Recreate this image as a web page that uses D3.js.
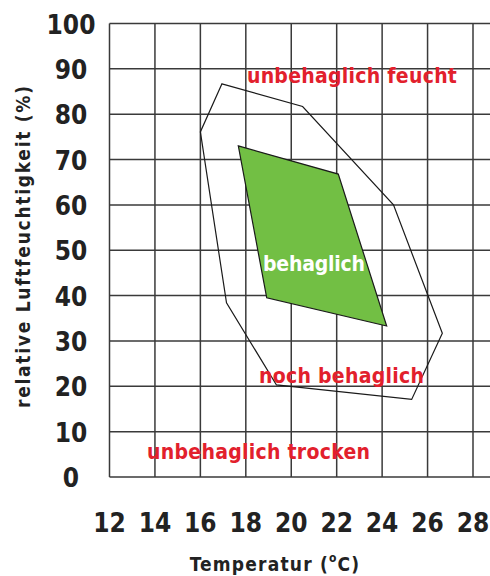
<!DOCTYPE html>
<html>
<head>
<meta charset="utf-8">
<script src="https://cdn.jsdelivr.net/npm/d3@7"></script>
<style>
  body { margin: 0; background: #fff; }
  svg { display: block; font-family: "DejaVu Sans Condensed", "DejaVu Sans", sans-serif; font-stretch: condensed; }
</style>
</head>
<body>
<div id="chart"></div>
<script>
// tick values
let xTicks = [12, 14, 16, 18, 20, 22, 24, 26, 28];
let yTicks = [0, 10, 20, 30, 40, 50, 60, 70, 80, 90, 100];

// outer zone "noch behaglich" (temperature, humidity)
let outerTemp = [16.95, 20.5, 24.5, 26.65, 25.3, 19.35, 17.15, 16.0];
let outerHum  = [86.7, 81.7, 60.0, 31.7, 17.1, 20.3, 38.4, 76.1];

// inner zone "behaglich"
let innerTemp = [17.67, 22.07, 24.2, 18.92];
let innerHum  = [73.0, 66.8, 33.3, 39.5];

// region labels
let labels = [
    { text: "unbehaglich feucht", t: 22.67, h: 86.9, color: "#e2202c", len: 210 },
    { text: "behaglich", t: 21.0, h: 45.4, color: "#ffffff", len: 102 },
    { text: "noch behaglich", t: 22.21, h: 20.7, color: "#e2202c", len: 165 },
    { text: "unbehaglich trocken", t: 18.56, h: 3.97, color: "#e2202c", len: 223 }
];

let width = 490, height = 576;

let svg = d3.select("#chart")
    .append("svg")
    .attr("width", width)
    .attr("height", height);

let x = d3.scaleLinear().domain([12, 28]).range([109.5, 473]);
let y = d3.scaleLinear().domain([0, 100]).range([477, 23.5]);

// grid
svg.append("g")
    .selectAll("line")
    .data(yTicks)
    .enter().append("line")
    .attr("x1", x(12))
    .attr("x2", width)
    .attr("y1", d => y(d))
    .attr("y2", d => y(d))
    .attr("stroke", "#3a3a3a")
    .attr("stroke-width", 1.5);

svg.append("g")
    .selectAll("line")
    .data(xTicks)
    .enter().append("line")
    .attr("x1", d => x(d))
    .attr("x2", d => x(d))
    .attr("y1", y(100))
    .attr("y2", y(0))
    .attr("stroke", "#3a3a3a")
    .attr("stroke-width", 1.5);

// tick labels
svg.append("g")
    .selectAll("text")
    .data(yTicks)
    .enter().append("text")
    .attr("x", 71)
    .attr("y", d => y(d) + 10)
    .attr("text-anchor", "middle")
    .attr("font-size", 26)
    .attr("font-weight", "bold")
    .attr("fill", "#222")
    .text(d => d);

svg.append("g")
    .selectAll("text")
    .data(xTicks)
    .enter().append("text")
    .attr("x", d => x(d))
    .attr("y", 532)
    .attr("text-anchor", "middle")
    .attr("font-size", 26)
    .attr("font-weight", "bold")
    .attr("fill", "#222")
    .text(d => d);

// axis titles
svg.append("text")
    .attr("transform", "translate(30," + 247 + ") rotate(-90)")
    .attr("text-anchor", "middle")
    .attr("font-size", 19)
    .attr("font-weight", "bold")
    .attr("fill", "#222")
    .attr("textLength", 322)
    .text("relative Luftfeuchtigkeit (%)");

let xt = svg.append("text")
    .attr("x", 275)
    .attr("y", 571)
    .attr("text-anchor", "middle")
    .attr("font-size", 19)
    .attr("font-weight", "bold")
    .attr("fill", "#222")
    .attr("letter-spacing", 1.2);
xt.append("tspan").text("Temperatur (");
xt.append("tspan").attr("dy", -9).attr("font-size", 12).text("o");
xt.append("tspan").attr("dy", 9).text("C)");

// zones
let line = d3.line().x(d => x(d[0])).y(d => y(d[1]));
let outer = outerTemp.map((t, i) => [t, outerHum[i]]);
let inner = innerTemp.map((t, i) => [t, innerHum[i]]);

svg.append("path")
    .attr("d", line(outer) + "Z")
    .attr("fill", "none")
    .attr("stroke", "#1a1a1a")
    .attr("stroke-width", 1.2);

svg.append("path")
    .attr("d", line(inner) + "Z")
    .attr("fill", "#72bf44")
    .attr("stroke", "#1a1a1a")
    .attr("stroke-width", 1.2);

svg.append("g")
    .selectAll("text")
    .data(labels)
    .enter().append("text")
    .attr("x", d => x(d.t))
    .attr("y", d => y(d.h))
    .attr("text-anchor", "middle")
    .attr("font-size", 21)
    .attr("font-weight", "bold")
    .attr("fill", d => d.color)
    .attr("textLength", d => d.len)
    .attr("lengthAdjust", "spacing")
    .text(d => d.text);
</script>
</body>
</html>
